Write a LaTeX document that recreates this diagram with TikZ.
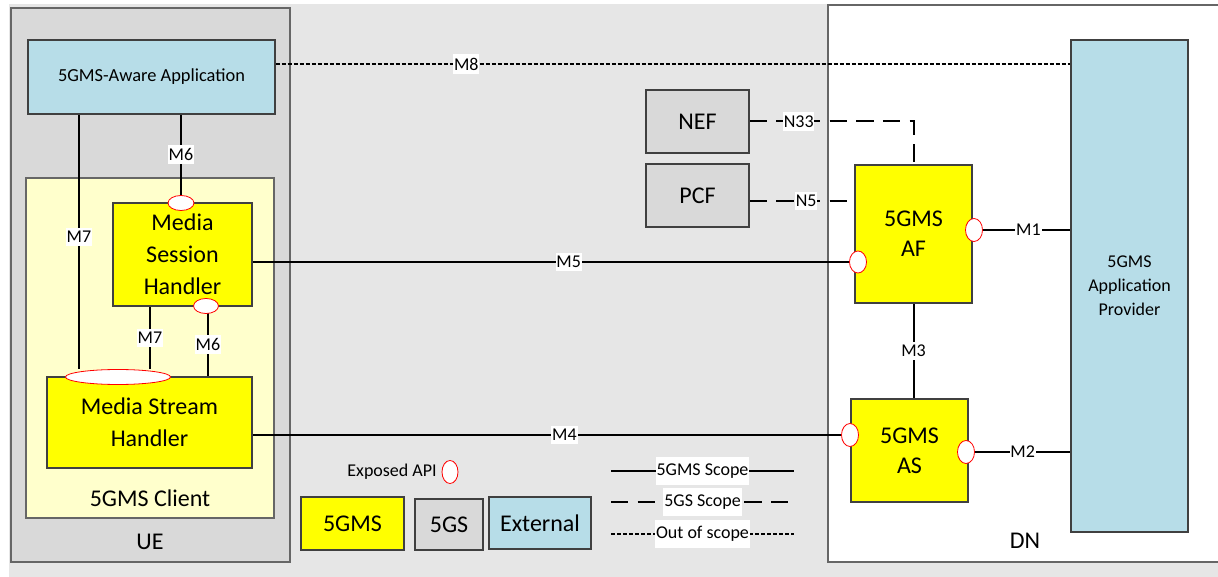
\documentclass[tikz,border=0pt]{standalone}
\usepackage{fontspec}
\setmainfont{Carlito}
\usetikzlibrary{fit,shapes.geometric}
\definecolor{bgc}{RGB}{230,230,230}
\definecolor{uec}{RGB}{217,217,217}
\definecolor{clientc}{RGB}{255,255,204}
\definecolor{ylw}{RGB}{255,255,0}
\definecolor{extc}{RGB}{183,221,232}
\definecolor{gsc}{RGB}{217,217,217}
\definecolor{edge}{RGB}{64,64,64}
\pgfdeclarelayer{bglayer}
\pgfdeclarelayer{lines}
\pgfsetlayers{bglayer,lines,main}
\tikzset{
  sz/.style 2 args={minimum width=#1*0.75pt, minimum height=#2*0.75pt},
  box/.style={draw=edge, line width=0.8pt, inner sep=0pt, align=center, font=\fontsize{18}{24}\selectfont},
  cont/.style={draw=edge!80, line width=0.9pt, inner sep=0pt},
  gms/.style={box, fill=ylw},
  gs/.style={box, fill=gsc},
  ext/.style={box, fill=extc},
  api/.style={ellipse, draw=red, fill=white, line width=0.6pt, inner sep=0pt},
  lbl/.style={fill=white, inner xsep=0.6pt, inner ysep=2.5pt, font=\fontsize{13.5}{16}\selectfont},
  leglbl/.style={fill=white, inner xsep=0.6pt, inner ysep=5pt, font=\fontsize{13.5}{16}\selectfont},
  txt/.style={inner sep=0pt, align=center},
  conn/.style={line width=1.5pt},
  gsline/.style={line width=1.5pt, dash pattern=on 13pt off 7pt},
  outline/.style={line width=1.6pt, dash pattern=on 3pt off 1.5pt},
}
\begin{document}
\begin{tikzpicture}[x=0.75pt, y=-0.75pt]
\useasboundingbox (0,0) rectangle (1218,577);
\begin{pgfonlayer}{bglayer}
\fill[bgc] (9,4) rectangle (1218,577);
\node[cont, fill=uec, fit={(11,8) (290,562)}] (ue) {};
\node[cont, fill=clientc, fit={(26,178) (274,518)}] (client) {};
\node[cont, fill=white, fit={(828,5) (1222,562)}] (dn) {};
\end{pgfonlayer}
% container labels
\node[txt, font=\fontsize{18}{22}\selectfont] (uelbl) at (150,542) {UE};
\node[txt, font=\fontsize{18}{22}\selectfont] (clientlbl) at (150,498) {5GMS Client};
\node[txt, font=\fontsize{18}{22}\selectfont] (dnlbl) at (1025,541) {DN};
% boxes
\node[ext, sz={247}{74}, font=\fontsize{13.8}{16}\selectfont] (app) at (151.5,77) {5GMS-Aware Application};
\node[gms, sz={139}{103}] (msh) at (182.5,254.5) {Media\\Session\\Handler};
\node[gms, sz={205}{91}] (msth) at (149.5,422.5) {Media Stream\\Handler};
\node[gs, sz={103}{63}] (nef) at (697.5,121.5) {NEF};
\node[gs, sz={103}{63}] (pcf) at (697.5,195.5) {PCF};
\node[gms, sz={117}{138}, font=\fontsize{18}{22.5}\selectfont] (af) at (913.5,234) {5GMS\\AF};
\node[gms, sz={117}{103}, font=\fontsize{18}{22.5}\selectfont] (as) at (909.5,450.5) {5GMS\\AS};
\node[ext, sz={117}{492}, font=\fontsize{13.5}{18}\selectfont] (prov) at (1129.5,286) {5GMS\\Application\\Provider};
% legend boxes
\node[gms, sz={103}{53}] (l5gms) at (352.5,523.5) {5GMS};
\node[gs, sz={68}{51}] (l5gs) at (449,524.5) {5GS};
\node[ext, sz={102}{52}] (lext) at (540,523) {External};
\node[txt, anchor=east, font=\fontsize{13.5}{16}\selectfont] (explbl) at (437,472) {Exposed API};
% exposed API ellipses
\node[api, sz={26}{15}] (api1) at (181,203) {};
\node[api, sz={25}{15}] (api2) at (206,306) {};
\node[api, sz={105}{15}] (api3) at (118,377) {};
\node[api, sz={17}{22}] (api4) at (858,262) {};
\node[api, sz={17}{23}] (api5) at (974,230) {};
\node[api, sz={17}{23}] (api6) at (850,435) {};
\node[api, sz={17}{23}] (api7) at (966,452) {};
\node[api, sz={16}{23}] (legapi) at (450,472) {};
% helper coordinates
\coordinate (m8y) at (0,64);
\coordinate (x79) at (79,0);
\coordinate (x150) at (150,0);
\coordinate (x208) at (208,0);
\coordinate (n5y) at (0,201);
\coordinate (ls1) at (611,471);
\coordinate (le1) at (794,471);
\coordinate (ls2) at (611,502);
\coordinate (le2) at (794,502);
\coordinate (ls3) at (611,534);
\coordinate (le3) at (794,534);
% connectors
\begin{pgfonlayer}{lines}
\draw[outline] (app.east |- m8y) -- node[lbl, pos=0.24] {M8} (prov.west |- m8y);
\draw[conn] (app.south -| api1) -- node[lbl] {M6} (api1);
\draw[conn] (app.south -| x79) -- node[lbl, pos=0.48] {M7} (api3.north -| x79);
\draw[conn] (msh.south -| x150) -- node[lbl, pos=0.5] {M7} (api3.north -| x150);
\draw[conn] (api2.center -| x208) -- node[lbl, pos=0.55] {M6} (msth.north -| x208);
\draw[conn] (msh.east |- api4) -- node[lbl, pos=0.53] {M5} (api4);
\draw[conn] (msth.east |- api6) -- node[lbl, pos=0.53] {M4} (api6);
\draw[gsline] (nef.east) -- node[lbl, pos=0.3] {N33} (af.north |- nef.east) -- (af.north);
\draw[gsline] (pcf.east |- n5y) -- node[lbl, pos=0.54] {N5} (af.west |- n5y);
\draw[conn] (api5) -- node[lbl, pos=0.52] {M1} (prov.west |- api5);
\draw[conn] (api7) -- node[lbl, pos=0.5] {M2} (prov.west |- api7);
\draw[conn] (af.south) -- node[lbl] {M3} (af.south |- as.north);
\draw[conn] (ls1) -- node[leglbl] {5GMS Scope} (le1);
\draw[gsline] (ls2) -- node[leglbl] {5GS Scope} (le2);
\draw[outline] (ls3) -- node[leglbl] {Out of scope} (le3);
\end{pgfonlayer}
\end{tikzpicture}
\end{document}
